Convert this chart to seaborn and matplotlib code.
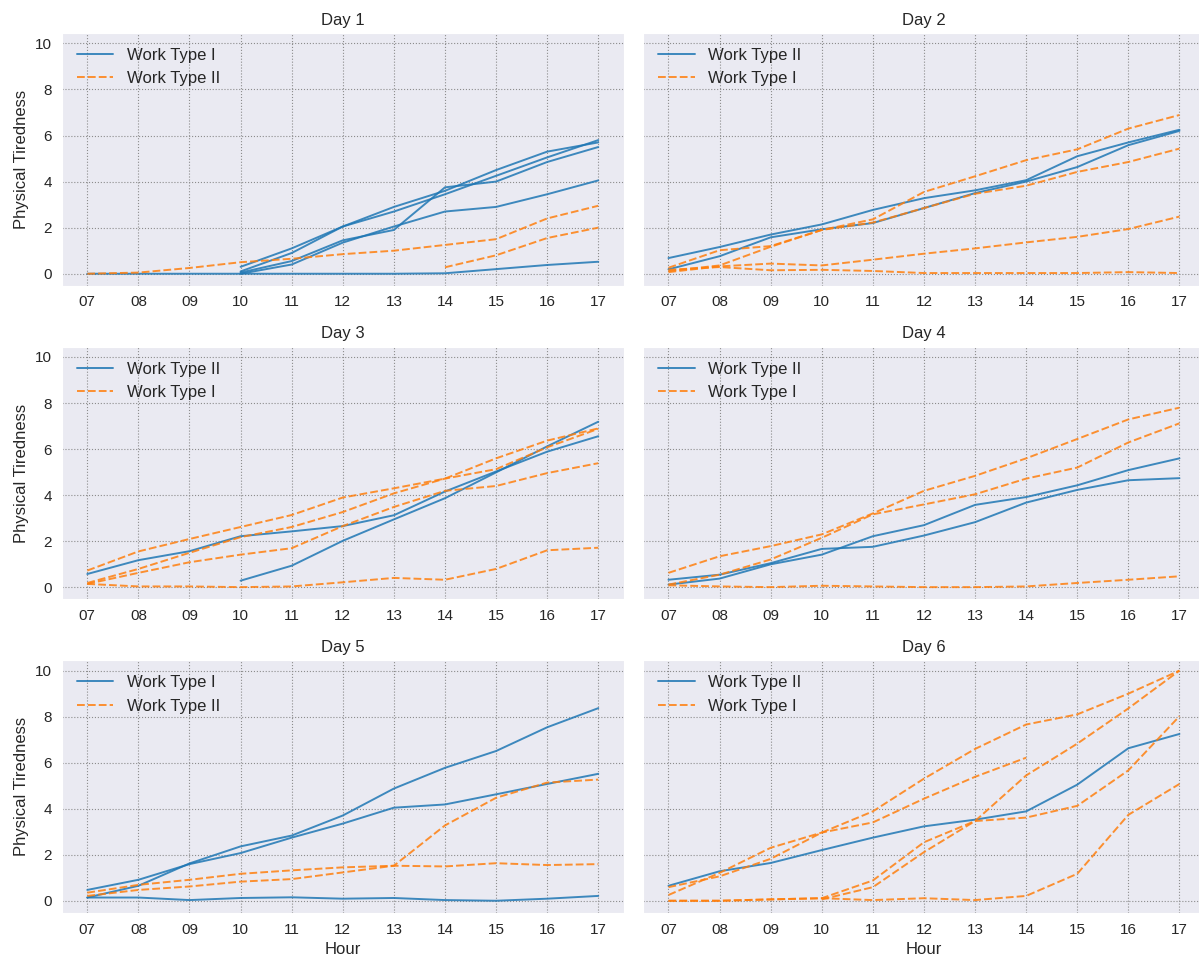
import numpy as np
import pandas as pd
import seaborn as sns
import matplotlib.pyplot as plt

nan = np.nan

hours = [7, 8, 9, 10, 11, 12, 13, 14, 15, 16, 17]
hour_labels = ['07', '08', '09', '10', '11', '12', '13', '14', '15', '16', '17']
day_titles = ['Day 1', 'Day 2', 'Day 3', 'Day 4', 'Day 5', 'Day 6']
# work type drawn in blue (solid) for each day, the other one is orange dashed
day_first_type = ['Work Type I', 'Work Type II', 'Work Type II',
                  'Work Type II', 'Work Type I', 'Work Type II']
day_second_type = ['Work Type II', 'Work Type I', 'Work Type I',
                   'Work Type I', 'Work Type II', 'Work Type I']

# one row per worker, nan = not measured yet
day1_first = [
    [nan, nan, nan, 0.30, 1.10, 2.05, 2.90, 3.60, 4.50, 5.30, 5.70],
    [nan, nan, nan, 0.10, 0.90, 2.05, 2.70, 3.45, 4.25, 5.05, 5.80],
    [nan, nan, nan, 0.05, 0.55, 1.45, 1.90, 3.75, 4.00, 4.85, 5.50],
    [nan, nan, nan, 0.00, 0.40, 1.35, 2.05, 2.70, 2.90, 3.45, 4.05],
    [0.00, 0.00, 0.00, 0.00, 0.00, 0.00, 0.00, 0.02, 0.20, 0.38, 0.52],
]
day1_second = [
    [0.00, 0.05, 0.25, 0.50, 0.65, 0.85, 1.00, 1.25, 1.50, 2.40, 2.95],
    [nan, nan, nan, nan, nan, nan, nan, 0.28, 0.80, 1.55, 2.00],
]

day2_first = [
    [0.68, 1.16, 1.70, 2.14, 2.77, 3.28, 3.62, 4.06, 5.10, 5.70, 6.25],
    [0.19, 0.76, 1.58, 1.93, 2.20, 2.85, 3.50, 4.00, 4.63, 5.58, 6.20],
]
day2_second = [
    [0.26, 1.02, 1.20, 1.90, 2.36, 3.55, 4.23, 4.93, 5.40, 6.30, 6.89],
    [0.12, 0.36, 1.17, 1.90, 2.22, 2.85, 3.47, 3.82, 4.42, 4.85, 5.43],
    [0.07, 0.32, 0.44, 0.36, 0.61, 0.87, 1.10, 1.36, 1.60, 1.94, 2.48],
    [0.17, 0.29, 0.15, 0.17, 0.12, 0.03, 0.03, 0.03, 0.03, 0.07, 0.03],
]

day3_first = [
    [0.58, 1.18, 1.57, 2.22, 2.43, 2.66, 3.13, 4.16, 5.03, 5.89, 6.56],
    [nan, nan, nan, 0.29, 0.94, 2.02, 2.95, 3.87, 4.99, 6.12, 7.19],
]
day3_second = [
    [0.73, 1.56, 2.10, 2.62, 3.14, 3.90, 4.30, 4.72, 5.60, 6.37, 6.90],
    [0.19, 0.80, 1.50, 2.18, 2.62, 3.27, 4.08, 4.72, 5.13, 6.08, 6.88],
    [0.15, 0.63, 1.09, 1.42, 1.70, 2.66, 3.49, 4.19, 4.40, 4.96, 5.39],
    [0.15, 0.04, 0.04, 0.01, 0.04, 0.22, 0.41, 0.33, 0.80, 1.61, 1.72],
]

day4_first = [
    [0.12, 0.38, 1.00, 1.42, 2.22, 2.70, 3.58, 3.92, 4.43, 5.09, 5.60],
    [0.33, 0.55, 1.05, 1.67, 1.76, 2.25, 2.83, 3.68, 4.23, 4.65, 4.74],
]
day4_second = [
    [0.63, 1.35, 1.79, 2.30, 3.21, 4.19, 4.84, 5.60, 6.44, 7.29, 7.80],
    [0.12, 0.55, 1.21, 2.15, 3.17, 3.60, 4.04, 4.72, 5.20, 6.29, 7.12],
    [0.09, 0.04, 0.01, 0.07, 0.04, 0.01, 0.01, 0.04, 0.19, 0.33, 0.48],
]

day5_first = [
    [0.15, 0.66, 1.63, 2.37, 2.84, 3.71, 4.88, 5.78, 6.51, 7.54, 8.37],
    [0.48, 0.92, 1.60, 2.08, 2.75, 3.36, 4.05, 4.19, 4.63, 5.08, 5.52],
    [0.15, 0.15, 0.04, 0.13, 0.16, 0.10, 0.13, 0.04, 0.01, 0.10, 0.22],
]
day5_second = [
    [0.36, 0.70, 0.92, 1.18, 1.33, 1.46, 1.53, 1.50, 1.64, 1.56, 1.60],
    [0.22, 0.48, 0.63, 0.84, 0.95, 1.24, 1.53, 3.28, 4.48, 5.14, 5.27],
]

day6_first = [
    [0.66, 1.29, 1.65, 2.21, 2.75, 3.24, 3.53, 3.89, 5.05, 6.63, 7.25],
]
day6_second = [
    [0.60, 1.07, 1.83, 2.97, 3.89, 5.31, 6.60, 7.66, 8.10, 9.00, 10.00],
    [0.26, 1.22, 2.31, 2.97, 3.41, 4.44, 5.39, 6.22, nan, nan, nan],
    [0.01, 0.01, 0.07, 0.12, 0.89, 2.55, 3.47, 5.45, 6.83, 8.36, 10.00],
    [nan, nan, nan, 0.07, 0.60, 2.12, 3.47, 3.62, 4.13, 5.67, 8.02],
    [0.01, 0.01, 0.07, 0.12, 0.04, 0.12, 0.04, 0.22, 1.18, 3.74, 5.08],
]

days_first = [day1_first, day2_first, day3_first, day4_first, day5_first, day6_first]
days_second = [day1_second, day2_second, day3_second, day4_second, day5_second, day6_second]


def build_frame(first, second, first_type, second_type):
    """
    long table (hour, tiredness, work type, worker) for one day
    """
    rows = []
    for group, wtype in ((first, first_type), (second, second_type)):
        for w, series in enumerate(group):
            for h, v in zip(hours, series):
                if not np.isnan(v):
                    rows.append((h, v, wtype, f'{wtype}-{w}'))
    return pd.DataFrame(rows, columns=['Hour', 'Physical Tiredness', 'type', 'worker'])


sns.set_style('darkgrid', {'grid.linestyle': ':', 'grid.color': '#8c8c8c',
                           'axes.facecolor': '#eaeaf2'})
plt.rcParams['font.family'] = ['Liberation Sans', 'DejaVu Sans']

fig, axes = plt.subplots(3, 2, figsize=(11.99, 9.59), dpi=100, sharey=True)
axes = axes.flatten()

for i, ax in enumerate(axes):
    df = build_frame(days_first[i], days_second[i], day_first_type[i], day_second_type[i])
    order = [day_first_type[i], day_second_type[i]]
    sns.lineplot(data=df, x='Hour', y='Physical Tiredness', hue='type', style='type',
                 units='worker', estimator=None, hue_order=order, style_order=order,
                 palette=['#1f77b4', '#ff7f0e'], dashes=['', (4, 1.6)],
                 linewidth=1.4, alpha=0.85, ax=ax)
    handles, labels = ax.get_legend_handles_labels()
    keep = [(h, l) for h, l in zip(handles, labels) if l.startswith('Work')]
    ax.legend([k[0] for k in keep], [k[1] for k in keep], loc='upper left',
              frameon=False, fontsize=12, handlelength=2.2)
    ax.set_title(day_titles[i], fontsize=12)
    ax.set_xticks(hours)
    ax.set_xticklabels(hour_labels)
    ax.tick_params(labelsize=11)
    ax.set_yticks([0, 2, 4, 6, 8, 10])
    ax.set_ylim(-0.52, 10.45)
    ax.set_xlim(6.5, 17.5)
    ax.set_xlabel('Hour' if i >= 4 else '', fontsize=12)
    ax.set_ylabel('Physical Tiredness' if i % 2 == 0 else '', fontsize=12)

# the original image is cropped a little on the right, so the right column runs past the edge
fig.subplots_adjust(left=0.0515, right=1.005, top=0.9656, bottom=0.048,
                    wspace=0.034, hspace=0.241)
fig.savefig('out.png', dpi=100)
plt.close(fig)
